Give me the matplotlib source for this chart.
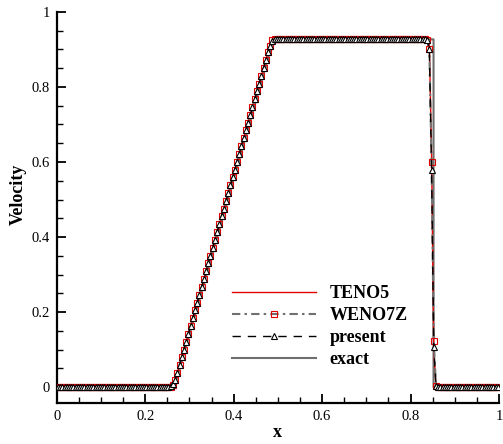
import numpy as np
import matplotlib
matplotlib.use('Agg')
import matplotlib.pyplot as plt

plt.rcParams['font.family'] = ['Liberation Serif', 'DejaVu Serif']

# 200-cell mesh, cell centres
x_cells = np.linspace(0.0025, 0.9975, 200)

# velocity through the rarefaction fan (cells 53..96)
ramp = [0.019, 0.038, 0.059, 0.080, 0.100, 0.121, 0.142, 0.163, 0.184, 0.205,
        0.225, 0.246, 0.267, 0.288, 0.309, 0.330, 0.350, 0.371, 0.392, 0.413,
        0.434, 0.455, 0.475, 0.496, 0.517, 0.538, 0.559, 0.580, 0.600, 0.621,
        0.642, 0.663, 0.684, 0.705, 0.725, 0.746, 0.767, 0.788, 0.809, 0.830,
        0.850, 0.871, 0.892, 0.910]
u_plateau = 0.927

u_teno5 = ([0.0] * 51 + [0.001, 0.006] + ramp + [0.923] + [u_plateau] * 69
           + [0.927, 0.915, 0.620, 0.100, 0.002] + [0.0] * 28)
u_weno7z = ([0.0] * 51 + [0.001, 0.005] + ramp + [0.924] + [u_plateau] * 69
            + [0.926, 0.900, 0.600, 0.122, 0.004] + [0.0] * 28)
u_present = ([0.0] * 51 + [0.002, 0.007] + ramp + [0.922] + [u_plateau] * 69
             + [0.925, 0.900, 0.580, 0.108, 0.004] + [0.0] * 28)

# exact solution breakpoints
x_exact = [0.0, 0.266, 0.490, 0.852, 0.852, 1.0]
u_exact = [0.0, 0.0, 0.927, 0.927, 0.0, 0.0]

fig = plt.figure(figsize=(5.03, 4.44), dpi=100)
ax = fig.add_axes([0.113, 0.092, 0.879, 0.881])

ax.plot(x_exact, u_exact, color='#6e6e6e', lw=1.5, label='exact', zorder=2)
ax.plot(x_cells, u_teno5, color='#e00000', lw=1.0, label='TENO5', zorder=3)
ax.plot(x_cells, u_weno7z, color='#707070', lw=1.5, dashes=(4, 2, 1.2, 2),
        marker='s', ms=4.2, mfc='none', mec='#e00000', mew=0.8,
        label='WENO7Z', zorder=4)
ax.plot(x_cells, u_present, color='black', lw=1.0, dashes=(6, 5),
        marker='^', ms=4.2, mfc='white', mec='black', mew=0.8,
        label='present', zorder=5)

ax.set_xlim(0, 1)
ax.set_ylim(-0.043, 1)
ax.set_xticks([0, 0.2, 0.4, 0.6, 0.8, 1])
ax.set_xticklabels(['0', '0.2', '0.4', '0.6', '0.8', '1'])
ax.set_yticks([0, 0.2, 0.4, 0.6, 0.8, 1])
ax.set_yticklabels(['0', '0.2', '0.4', '0.6', '0.8', '1'])
ax.set_xticks(np.arange(0, 1.0001, 0.05), minor=True)
ax.set_yticks(np.arange(0, 1.0001, 0.05), minor=True)

for s in ['top', 'right']:
    ax.spines[s].set_visible(False)
for s in ['left', 'bottom']:
    ax.spines[s].set_linewidth(1.6)
ax.tick_params(which='major', direction='in', length=6.5, width=1.3,
               labelsize=10.5, pad=5)
ax.tick_params(which='minor', direction='in', length=4, width=1.0)

ax.set_xlabel('x', fontsize=13, fontweight='bold', labelpad=1)
ax.set_ylabel('Velocity', fontsize=13, fontweight='bold')
ax.yaxis.set_label_coords(-0.069, 0.535)

h, l = ax.get_legend_handles_labels()
order = [1, 2, 3, 0]
ax.legend([h[i] for i in order], [l[i] for i in order], frameon=False,
          prop={'weight': 'bold', 'size': 13}, handlelength=4.65,
          handletextpad=0.78, labelspacing=0.27,
          loc='upper left', bbox_to_anchor=(0.359, 0.343))

fig.savefig('out.png', dpi=100)
